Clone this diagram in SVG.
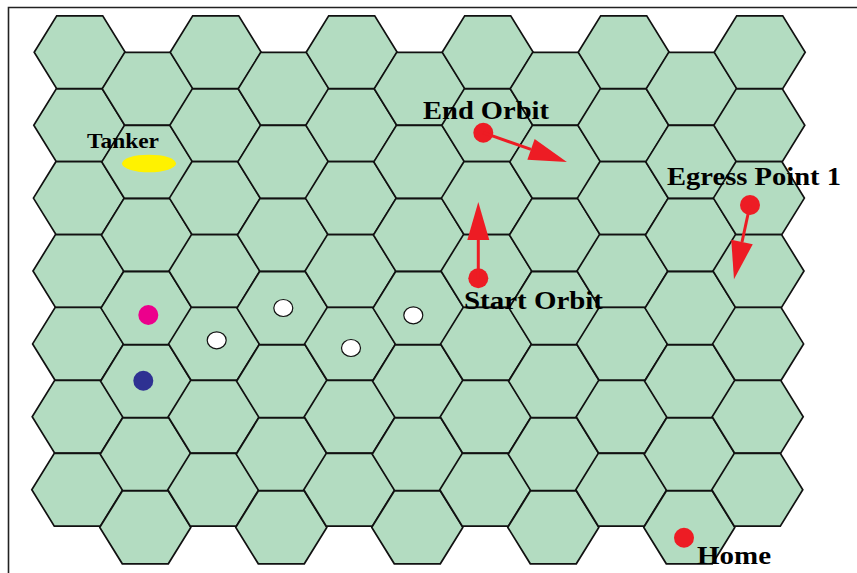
<svg xmlns="http://www.w3.org/2000/svg" xmlns:xlink="http://www.w3.org/1999/xlink" width="857" height="573" viewBox="0 0 857 573">
<style>
.hex{fill:#b3dcc1;stroke:#111;stroke-width:1.7;stroke-linejoin:miter}
.lbl{font-family:"Liberation Serif","Times New Roman",serif;font-weight:bold;fill:#000}
.red{fill:#ed1c24}
.wdot{fill:#fff;stroke:#111;stroke-width:1.2}
.arr{stroke:#ed1c24;stroke-width:3;fill:none}
</style>
<defs>
<polygon id="h" class="hex" points="-45.5,0 -23,-36.4 23,-36.4 45.5,0 23,36.4 -23,36.4"/>
<marker id="ah" markerUnits="userSpaceOnUse" markerWidth="40" markerHeight="24" refX="0" refY="11" orient="auto" viewBox="0 0 40 24" overflow="visible">
<path d="M0,0 L38,11 L0,22 Z" fill="#ed1c24"/>
</marker>
</defs>
<rect width="857" height="573" fill="#fff"/>
<path d="M8.5,573 V7.5 H857" fill="none" stroke="#222" stroke-width="1.6"/>
<g id="grid">
<use href="#h" x="79.7" y="52.3"/><use href="#h" x="79.3" y="125.2"/><use href="#h" x="78.9" y="198.1"/><use href="#h" x="78.5" y="271"/><use href="#h" x="78.1" y="343.9"/><use href="#h" x="77.7" y="416.8"/><use href="#h" x="77.3" y="489.7"/>
<use href="#h" x="147.7" y="88.8"/><use href="#h" x="147.3" y="161.9"/><use href="#h" x="146.9" y="235"/><use href="#h" x="146.5" y="308.1"/><use href="#h" x="146.1" y="381.2"/><use href="#h" x="145.7" y="454.3"/><use href="#h" x="145.3" y="527.4"/>
<use href="#h" x="215.7" y="52.3"/><use href="#h" x="215.3" y="125.2"/><use href="#h" x="214.9" y="198.1"/><use href="#h" x="214.5" y="271"/><use href="#h" x="214.1" y="343.9"/><use href="#h" x="213.7" y="416.8"/><use href="#h" x="213.3" y="489.7"/>
<use href="#h" x="283.7" y="88.8"/><use href="#h" x="283.3" y="161.9"/><use href="#h" x="282.9" y="235"/><use href="#h" x="282.5" y="308.1"/><use href="#h" x="282.1" y="381.2"/><use href="#h" x="281.7" y="454.3"/><use href="#h" x="281.3" y="527.4"/>
<use href="#h" x="351.7" y="52.3"/><use href="#h" x="351.3" y="125.2"/><use href="#h" x="350.9" y="198.1"/><use href="#h" x="350.5" y="271"/><use href="#h" x="350.1" y="343.9"/><use href="#h" x="349.7" y="416.8"/><use href="#h" x="349.3" y="489.7"/>
<use href="#h" x="419.7" y="88.8"/><use href="#h" x="419.3" y="161.9"/><use href="#h" x="418.9" y="235"/><use href="#h" x="418.5" y="308.1"/><use href="#h" x="418.1" y="381.2"/><use href="#h" x="417.7" y="454.3"/><use href="#h" x="417.3" y="527.4"/>
<use href="#h" x="487.7" y="52.3"/><use href="#h" x="487.3" y="125.2"/><use href="#h" x="486.9" y="198.1"/><use href="#h" x="486.5" y="271"/><use href="#h" x="486.1" y="343.9"/><use href="#h" x="485.7" y="416.8"/><use href="#h" x="485.3" y="489.7"/>
<use href="#h" x="555.7" y="88.8"/><use href="#h" x="555.3" y="161.9"/><use href="#h" x="554.9" y="235"/><use href="#h" x="554.5" y="308.1"/><use href="#h" x="554.1" y="381.2"/><use href="#h" x="553.7" y="454.3"/><use href="#h" x="553.3" y="527.4"/>
<use href="#h" x="623.7" y="52.3"/><use href="#h" x="623.3" y="125.2"/><use href="#h" x="622.9" y="198.1"/><use href="#h" x="622.5" y="271"/><use href="#h" x="622.1" y="343.9"/><use href="#h" x="621.7" y="416.8"/><use href="#h" x="621.3" y="489.7"/>
<use href="#h" x="691.7" y="88.8"/><use href="#h" x="691.3" y="161.9"/><use href="#h" x="690.9" y="235"/><use href="#h" x="690.5" y="308.1"/><use href="#h" x="690.1" y="381.2"/><use href="#h" x="689.7" y="454.3"/><use href="#h" x="689.3" y="527.4"/>
<use href="#h" x="759.7" y="52.3"/><use href="#h" x="759.3" y="125.2"/><use href="#h" x="758.9" y="198.1"/><use href="#h" x="758.5" y="271"/><use href="#h" x="758.1" y="343.9"/><use href="#h" x="757.7" y="416.8"/><use href="#h" x="757.3" y="489.7"/>
</g>
<g id="tanker">
<ellipse cx="149" cy="163.5" rx="27" ry="8.8" fill="#fff200"/>
<text class="lbl" x="87" y="148" font-size="22" textLength="72" lengthAdjust="spacingAndGlyphs">Tanker</text>
</g>
<g id="pink-unit"><circle cx="148.3" cy="315" r="10" fill="#ec008c"/></g>
<g id="blue-unit"><circle cx="143.3" cy="380.7" r="10" fill="#2e3192"/></g>
<g id="white-1"><ellipse class="wdot" cx="216.7" cy="340.3" rx="9.5" ry="8.5"/></g>
<g id="white-2"><ellipse class="wdot" cx="283.3" cy="308" rx="9.5" ry="8.5"/></g>
<g id="white-3"><ellipse class="wdot" cx="351" cy="348" rx="9.5" ry="8.5"/></g>
<g id="white-4"><ellipse class="wdot" cx="413.3" cy="315.3" rx="9.5" ry="8.5"/></g>
<g id="end-orbit">
<circle class="red" cx="483.3" cy="132.7" r="10"/>
<text class="lbl" x="423" y="119" font-size="25" textLength="126" lengthAdjust="spacingAndGlyphs">End Orbit</text>
</g>
<g id="start-orbit">
<circle class="red" cx="478.3" cy="278.3" r="10"/>
<text class="lbl" x="464" y="309" font-size="25" textLength="139" lengthAdjust="spacingAndGlyphs">Start Orbit</text>
</g>
<g id="egress-point-1">
<circle class="red" cx="750" cy="205" r="10"/>
<text class="lbl" x="667" y="185" font-size="25" textLength="174" lengthAdjust="spacingAndGlyphs">Egress Point 1</text>
</g>
<g id="home">
<circle class="red" cx="684" cy="537.7" r="10"/>
<text class="lbl" x="697" y="564" font-size="25" textLength="74" lengthAdjust="spacingAndGlyphs">Home</text>
</g>
<g id="connectors">
<line class="arr" x1="483.3" y1="132.7" x2="531" y2="149.4" marker-end="url(#ah)"/>
<line class="arr" x1="478.3" y1="278.3" x2="478.3" y2="240" marker-end="url(#ah)"/>
<line class="arr" x1="750" y1="205" x2="742" y2="242" marker-end="url(#ah)"/>
</g>
</svg>
